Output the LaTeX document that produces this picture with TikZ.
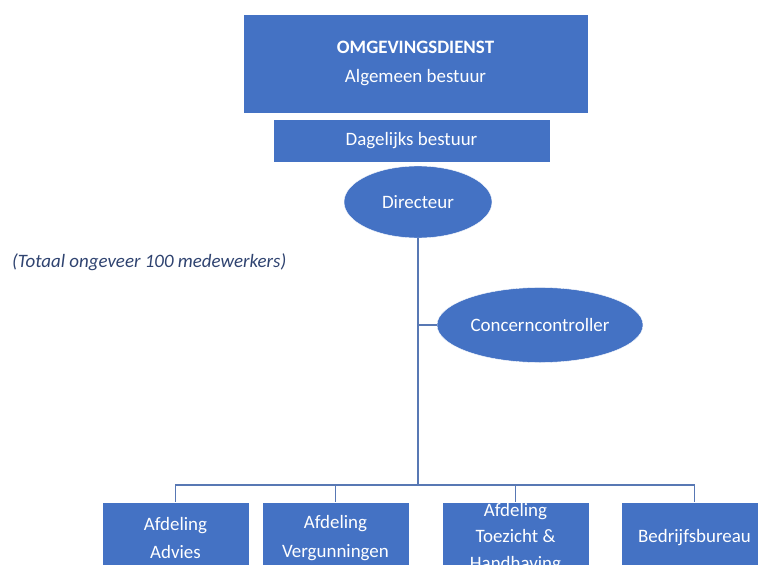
\documentclass[tikz,border=0pt]{standalone}
\usepackage{fontspec}
\setmainfont{Carlito}
\usetikzlibrary{shapes.geometric}
\definecolor{boxblue}{HTML}{4472C4}
\definecolor{lineblue}{HTML}{5878B4}
\definecolor{noteblue}{HTML}{2F4370}

\begin{document}
\begin{tikzpicture}[x=1bp,y=-1bp,
    box/.style={rectangle,fill=boxblue,draw=white,thin,text=white,inner sep=0pt,align=center,
      font=\fontsize{19}{29}\selectfont},
    oval/.style={ellipse,fill=boxblue,draw=white,thin,text=white,inner sep=0pt,
      font=\fontsize{19}{23}\selectfont},
    link/.style={draw=lineblue,line width=1.3bp}]
    \useasboundingbox (0,0) rectangle (758,565);
    \clip (0,0) rectangle (758,565);

    \node[box,minimum width=345bp,minimum height=99bp] (AB) at (415.5,63.5)
      {\textbf{OMGEVINGSDIENST}\\Algemeen bestuur};
    \node[box,minimum width=277bp,minimum height=43bp] (DB) at (411.5,140.5) {Dagelijks bestuur};
    \node[oval,minimum width=148bp,minimum height=72bp] (DIR) at (418,202) {Directeur};
    \node[oval,minimum width=206bp,minimum height=75bp] (CC) at (540,325) {Concerncontroller};

    \node[anchor=west,inner sep=0pt,text=noteblue,font=\fontsize{19}{23}\selectfont\itshape] (N) at (12,262)
      {(Totaal ongeveer 100 medewerkers)};

    \node[box,minimum width=147bp,minimum height=72bp] (ADV) at (175.5,538) {Afdeling\\Advies};
    \node[box,minimum width=147bp,minimum height=72bp] (VER) at (335.5,538) {Afdeling\\Vergunningen};
    \node[box,minimum width=147bp,minimum height=72bp,font=\fontsize{19}{27}\selectfont] (TH) at (515.5,538)
      {Afdeling\\Toezicht \&\\Handhaving};
    \node[box,minimum width=147bp,minimum height=72bp] (BB) at (694.5,538) {Bedrijfsbureau};

    \coordinate (K) at (418,325);
    \coordinate (J) at (418,485);

    \draw[link] (DIR) -- (J);
    \draw[link] (K) -- (CC.west);
    \foreach \n in {ADV,VER,TH,BB}
      \draw[link] (J) -| (\n.north);
  \end{tikzpicture}
\end{document}
